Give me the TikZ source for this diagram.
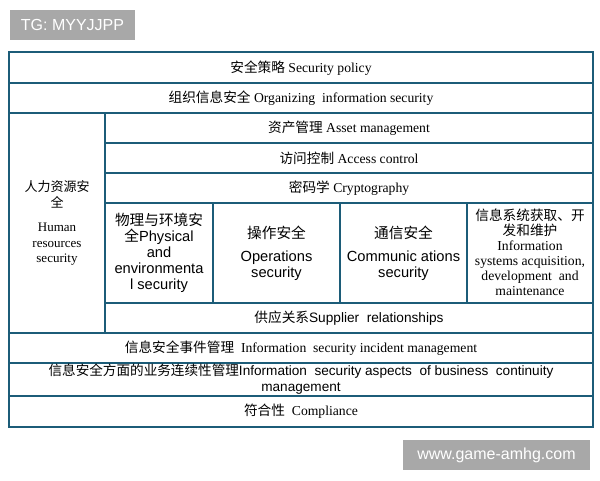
\documentclass[tikz,border=0pt]{standalone}
\usepackage{fontspec}
\setmainfont{Liberation Serif}
\setsansfont{Liberation Sans}
\newfontfamily\cjk{Noto Sans CJK SC}
\newcommand{\zh}[1]{{\cjk #1}}
\definecolor{framecol}{HTML}{1C5C78}
\definecolor{tagcol}{HTML}{A8A8A8}
\tikzset{
  cell/.style={align=center, inner sep=0pt, font=\fontsize{10.25}{11.5}\selectfont},
  sanscell/.style={cell, font=\sffamily\fontsize{11}{12}\selectfont},
  tag/.style={fill=tagcol, text=white, font=\sffamily\fontsize{12}{14}\selectfont, inner sep=0pt}
}
\begin{document}
\begin{tikzpicture}[x=0.75pt,y=-0.75pt]
            \useasboundingbox (0,0) rectangle (600,480);
            \fill[tagcol] (10,10) rectangle (135,40);
            \node[tag] (tg) at (72.5,25) {TG: MYYJJPP};
            \fill[tagcol] (403,440) rectangle (590,470);
            \node[tag] (www) at (496.5,455) {www.game-amhg.com};

            \draw[framecol,line width=1.6pt] (9,52) rectangle (593,427);
            \foreach \y in {83,113,333,363,396}
                \draw[framecol,line width=1.6pt] (9,\y) -- (593,\y);
            \foreach \y in {143,173,203,303}
                \draw[framecol,line width=1.6pt] (105,\y) -- (593,\y);
            \draw[framecol,line width=1.6pt] (105,113) -- (105,333);
            \foreach \x in {213,340,467}
                \draw[framecol,line width=1.6pt] (\x,203) -- (\x,303);

            \node[cell] (policy) at (301,68) {\zh{安全策略} Security policy};
            \node[cell] (organizing) at (301,98.5) {\zh{组织信息安全} Organizing\ \ information security};
            \node[cell, font=\fontsize{9.75}{11.5}\selectfont] (human) at (57,223) {\zh{人力资源安}\\\zh{全}\\[7pt]Human\\resources\\security};
            \node[cell] (asset) at (349,128) {\zh{资产管理} Asset management};
            \node[cell] (access) at (349,158) {\zh{访问控制} Access control};
            \node[cell] (crypto) at (349,188) {\zh{密码学} Cryptography};
            \node[sanscell] (physical) at (159,253) {\zh{物理与环境安}\\\zh{全}Physical\\and\\environmenta\\l security};
            \node[sanscell] (operations) at (276.5,253) {\zh{操作安全}\\[5pt]Operations\\security};
            \node[sanscell] (communications) at (403.5,253) {\zh{通信安全}\\[5pt]Communic ations\\security};
            \node[cell, font=\fontsize{10.25}{11.25}\selectfont] (acquisition) at (530,252) {\zh{信息系统获取、开}\\\zh{发和维护}\\Information\\systems acquisition,\\development\ \ and\\maintenance};
            \node[sanscell, font=\sffamily\fontsize{10.25}{11.5}\selectfont] (supplier) at (349,318) {\zh{供应关系}Supplier\ \ relationships};
            \node[cell] (incident) at (301,348) {\zh{信息安全事件管理}\ \ Information\ \ security incident management};
            \node[sanscell, font=\sffamily\fontsize{10.2}{12}\selectfont] (continuity) at (301,379.5) {\zh{信息安全方面的业务连续性管理}Information\ \ security aspects\ \ of business\ \ continuity\\management};
            \node[cell] (compliance) at (301,411.5) {\zh{符合性}\ \ Compliance};
        \end{tikzpicture}
\end{document}
